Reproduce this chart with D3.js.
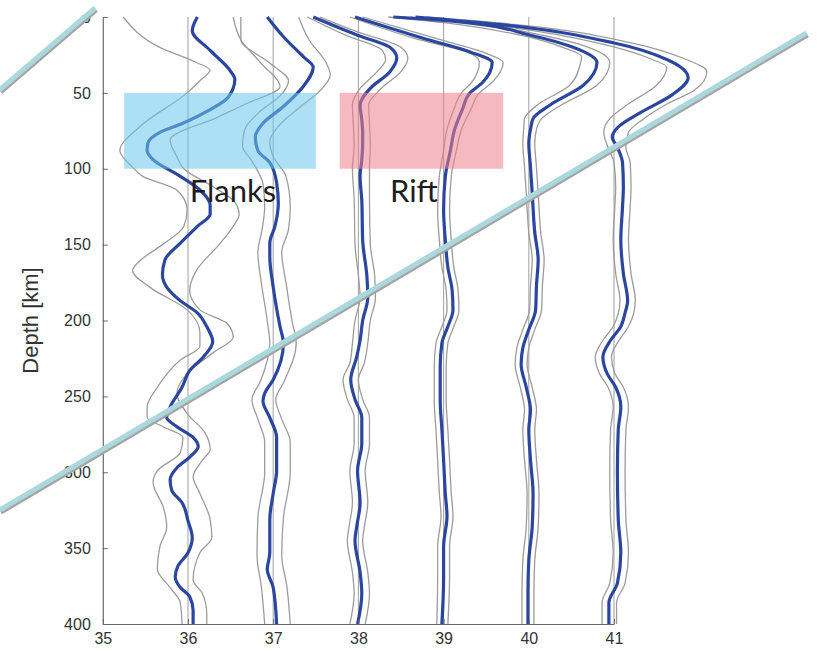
<!DOCTYPE html>
<html>
<head>
<meta charset="utf-8">
<script src="https://cdn.jsdelivr.net/npm/d3@7/dist/d3.min.js"></script>
<style>
  html, body { margin: 0; padding: 0; background: #fff; }
  svg { display: block; }
</style>
</head>
<body>
<svg id="chart" width="818" height="650"></svg>
<script>
// Station longitudes (one stacked profile per station) and axis ticks
const stations = [36, 37, 38, 39, 40, 41];
const lonTicks = [35, 36, 37, 38, 39, 40, 41];
const depthTicks = [0, 50, 100, 150, 200, 250, 300, 350, 400];

// Each profile: [depth km, plotted longitude] for the mean trace and its two bounds
const mid36 = [[0,36.11],[9,36.05],[22,36.26],[35,36.49],[41,36.55],[53,36.47],[61,36.26],[70,35.94],[76,35.67],[83,35.53],[88,35.52],[94,35.59],[105,35.91],[114,36.14],[124,36.26],[130,36.26],[138,36.11],[149,35.91],[160,35.73],[170,35.70],[178,35.75],[187,35.91],[195,36.11],[204,36.22],[214,36.29],[224,36.18],[233,36.02],[244,35.93],[257,35.79],[264,35.75],[270,35.87],[277,36.06],[283,36.12],[290,36.02],[297,35.87],[305,35.79],[312,35.81],[320,35.93],[332,36.00],[343,36.05],[353,36.00],[362,35.88],[369,35.85],[376,35.91],[382,36.02],[391,36.06],[400,36.06]];
const lo36 = [[0,35.24],[20,35.67],[30,36.10],[35,36.26],[42,36.14],[50,35.99],[72,35.44],[88,35.20],[99,35.35],[105,35.47],[114,35.87],[127,35.99],[138,35.95],[150,35.70],[160,35.45],[167,35.35],[178,35.55],[193,35.99],[208,36.14],[217,36.14],[226,35.91],[244,35.64],[257,35.52],[264,35.52],[270,35.71],[277,35.94],[287,35.91],[299,35.64],[307,35.59],[323,35.71],[336,35.75],[349,35.67],[364,35.64],[376,35.79],[386,35.91],[400,35.93]];
const hi36 = [[0,36.53],[15,36.62],[30,36.85],[46,37.08],[57,36.69],[66,36.35],[81,35.79],[92,35.87],[100,35.95],[112,36.30],[122,36.55],[130,36.60],[138,36.53],[149,36.38],[167,36.10],[180,36.02],[193,36.14],[202,36.46],[211,36.53],[221,36.30],[235,35.99],[248,35.87],[262,36.00],[274,36.20],[285,36.26],[292,36.17],[303,36.06],[314,36.14],[331,36.26],[343,36.28],[353,36.14],[371,36.06],[380,36.17],[393,36.22],[400,36.22]];

const mid37 = [[0,36.93],[13,37.12],[26,37.35],[33,37.47],[46,37.35],[59,37.12],[70,36.88],[79,36.79],[88,36.82],[96,36.96],[109,37.04],[123,37.06],[138,37.02],[149,36.96],[158,36.96],[178,37.00],[204,37.08],[215,37.12],[239,37.00],[248,36.90],[253,36.88],[264,36.96],[277,37.04],[299,37.04],[314,37.00],[331,36.96],[353,36.96],[364,36.93],[376,37.00],[400,37.04]];
const lo37 = [[0,36.62],[15,36.62],[30,36.95],[42,37.18],[52,37.08],[62,36.85],[75,36.66],[85,36.64],[95,36.75],[110,36.88],[125,36.90],[140,36.87],[155,36.82],[175,36.86],[200,36.93],[215,36.96],[240,36.85],[252,36.75],[265,36.82],[280,36.90],[300,36.90],[330,36.82],[355,36.81],[375,36.86],[400,36.90]];
const hi37 = [[0,37.30],[15,37.42],[30,37.62],[38,37.67],[48,37.56],[60,37.30],[72,37.06],[82,36.96],[92,37.00],[105,37.15],[125,37.20],[140,37.18],[155,37.10],[175,37.15],[200,37.22],[215,37.27],[240,37.13],[252,37.03],[265,37.10],[280,37.20],[300,37.20],[330,37.12],[355,37.10],[375,37.16],[400,37.20]];

const mid38 = [[0,37.47],[12,37.99],[20,38.37],[27,38.45],[36,38.37],[47,38.14],[58,38.02],[68,38.04],[76,38.05],[83,38.05],[94,38.04],[105,38.02],[121,38.04],[147,38.05],[171,38.10],[185,38.11],[200,38.05],[213,38.02],[224,37.98],[239,37.91],[252,37.96],[264,38.04],[281,38.04],[299,37.99],[320,38.02],[336,37.98],[345,37.96],[366,38.02],[380,38.04],[400,37.99]];
const lo38 = [[0,37.40],[12,37.85],[22,38.28],[28,38.32],[36,38.22],[47,38.02],[58,37.93],[70,37.94],[85,37.95],[100,37.93],[120,37.95],[150,37.96],[170,38.00],[185,38.02],[200,37.96],[215,37.93],[228,37.90],[239,37.82],[252,37.87],[264,37.95],[281,37.95],[299,37.90],[320,37.93],[336,37.89],[345,37.87],[366,37.93],[380,37.95],[400,37.90]];
const hi38 = [[0,37.55],[10,38.00],[20,38.50],[27,38.58],[36,38.50],[47,38.27],[58,38.12],[70,38.13],[85,38.14],[100,38.13],[120,38.13],[150,38.14],[170,38.19],[185,38.20],[200,38.14],[215,38.11],[228,38.07],[239,38.00],[252,38.05],[264,38.13],[281,38.13],[299,38.08],[320,38.11],[336,38.07],[345,38.05],[366,38.11],[380,38.13],[400,38.08]];

const mid39 = [[0,37.96],[14,38.76],[23,39.31],[30,39.57],[43,39.46],[50,39.31],[61,39.22],[74,39.13],[88,39.08],[105,39.02],[127,39.00],[147,39.02],[165,39.05],[180,39.10],[193,39.11],[204,39.05],[215,38.98],[231,38.96],[252,38.96],[272,38.98],[292,39.00],[314,39.02],[329,39.04],[349,39.00],[369,39.00],[400,38.98]];
const lo39 = [[0,37.90],[14,38.65],[25,39.35],[30,39.42],[43,39.33],[50,39.21],[61,39.12],[74,39.04],[88,39.00],[105,38.95],[127,38.93],[147,38.95],[165,38.98],[180,39.03],[193,39.04],[204,38.98],[215,38.91],[231,38.89],[252,38.89],[272,38.91],[292,38.93],[314,38.95],[329,38.97],[349,38.93],[369,38.93],[400,38.92]];
const hi39 = [[0,38.05],[14,38.90],[24,39.50],[30,39.70],[43,39.57],[50,39.42],[61,39.32],[74,39.21],[88,39.15],[105,39.09],[127,39.07],[147,39.09],[165,39.12],[180,39.17],[193,39.18],[204,39.12],[215,39.05],[231,39.03],[252,39.03],[272,39.05],[292,39.07],[314,39.09],[329,39.11],[349,39.07],[369,39.07],[400,39.05]];

const mid40 = [[0,38.41],[3,39.16],[12,40.02],[20,40.52],[30,40.80],[45,40.64],[58,40.25],[67,40.05],[74,40.02],[83,40.00],[99,40.02],[116,40.04],[142,40.07],[160,40.11],[177,40.09],[193,40.08],[206,40.00],[218,39.93],[229,39.91],[244,39.97],[259,40.02],[272,40.00],[292,40.02],[314,40.05],[336,40.04],[358,40.00],[380,39.99],[400,39.99]];
const lo40 = [[0,38.35],[4,39.05],[12,39.90],[20,40.40],[26,40.62],[32,40.60],[45,40.48],[58,40.10],[67,39.95],[74,39.94],[83,39.93],[99,39.95],[116,39.97],[142,40.00],[160,40.04],[177,40.02],[193,40.01],[206,39.93],[218,39.86],[229,39.84],[244,39.90],[259,39.95],[272,39.93],[292,39.95],[314,39.98],[336,39.97],[358,39.93],[380,39.92],[400,39.92]];
const hi40 = [[0,38.50],[4,39.30],[12,40.15],[20,40.70],[30,40.95],[45,40.80],[58,40.38],[67,40.15],[74,40.09],[83,40.07],[99,40.09],[116,40.11],[142,40.14],[160,40.18],[177,40.16],[193,40.15],[206,40.07],[218,40.00],[229,39.98],[244,40.04],[259,40.09],[272,40.07],[292,40.09],[314,40.12],[336,40.11],[358,40.07],[380,40.06],[400,40.06]];

const mid41 = [[0,38.67],[5,39.67],[17,40.99],[28,41.62],[40,41.87],[51,41.69],[63,41.31],[73,41.04],[79,40.98],[86,41.04],[96,41.10],[112,41.11],[125,41.10],[147,41.08],[169,41.11],[187,41.16],[195,41.13],[204,41.08],[213,40.96],[224,40.87],[235,40.92],[244,41.02],[257,41.08],[272,41.05],[299,41.04],[331,41.05],[353,41.08],[373,41.04],[386,40.94],[400,40.94]];
const lo41 = [[0,38.60],[5,39.50],[17,40.80],[28,41.45],[33,41.62],[45,41.50],[58,41.15],[67,40.95],[76,40.88],[86,40.93],[96,41.00],[112,41.02],[125,41.01],[147,40.99],[169,41.02],[187,41.07],[204,40.99],[213,40.87],[224,40.78],[235,40.83],[244,40.93],[257,40.99],[272,40.96],[299,40.95],[331,40.96],[353,40.99],[373,40.95],[386,40.86],[400,40.86]];
const hi41 = [[0,38.80],[5,39.85],[17,41.20],[28,41.85],[36,42.09],[48,41.95],[58,41.60],[67,41.35],[76,41.17],[86,41.14],[96,41.19],[112,41.20],[125,41.19],[147,41.17],[169,41.20],[187,41.25],[204,41.17],[213,41.06],[224,40.97],[235,41.01],[244,41.11],[257,41.17],[272,41.14],[299,41.13],[331,41.14],[353,41.17],[373,41.13],[386,41.03],[400,41.03]];

const meanTraces = [mid36, mid37, mid38, mid39, mid40, mid41];
const boundTraces = [lo36, hi36, lo37, hi37, lo38, hi38, lo39, hi39, lo40, hi40, lo41, hi41];

// Highlighted depth windows
const zoneNames = ["Flanks", "Rift"];
const zoneLon0 = [35.25, 37.78];
const zoneLon1 = [37.5, 39.7];
const zoneTop = [50, 50];
const zoneBottom = [100, 100];
const zoneFill = ["#6cc6ec", "#f0808c"];
const zoneLabelLon = [36.02, 38.37];
const zoneLabelDepth = [122, 122];

// Strike-through marks across the figure: [lon, depth] end points
const strikeA = [[33.79, 48], [34.91, -6]];
const strikeB = [[33.79, 325], [43.26, 10.5]];

const svg = d3.select("#chart");
const x = d3.scaleLinear().domain([35, 41]).range([102.8, 614]);
const y = d3.scaleLinear().domain([0, 400]).range([17, 624]);

const line = d3.line()
  .x(d => x(d[1]))
  .y(d => y(d[0]))
  .curve(d3.curveMonotoneY);

// Station reference lines
svg.append("g").selectAll("line").data(stations).join("line")
  .attr("x1", d => x(d)).attr("x2", d => x(d))
  .attr("y1", y(0)).attr("y2", y(400))
  .attr("stroke", "#a8a8a8").attr("stroke-width", 1.1);

// Bounds
svg.append("g").selectAll("path").data(boundTraces).join("path")
  .attr("d", line)
  .attr("fill", "none")
  .attr("stroke", "#9c9c9c")
  .attr("stroke-width", 1.3);

// Mean traces
svg.append("g").selectAll("path").data(meanTraces).join("path")
  .attr("d", line)
  .attr("fill", "none")
  .attr("stroke", "#2b46a0")
  .attr("stroke-width", 3.2)
  .attr("stroke-linejoin", "round");

// Depth windows
svg.append("g").selectAll("rect").data(zoneNames).join("rect")
  .attr("x", (d, i) => x(zoneLon0[i]))
  .attr("y", (d, i) => y(zoneTop[i]))
  .attr("width", (d, i) => x(zoneLon1[i]) - x(zoneLon0[i]))
  .attr("height", (d, i) => y(zoneBottom[i]) - y(zoneTop[i]))
  .attr("fill", (d, i) => zoneFill[i])
  .attr("fill-opacity", 0.55);

// Axes
const axisClip = svg.append("clipPath").attr("id", "axisClip");
axisClip.append("rect").attr("x", 0).attr("y", 15).attr("width", 818).attr("height", 640);

const axisFont = "'Liberation Sans', Helvetica, Arial, sans-serif";
const axes = svg.append("g").attr("clip-path", "url(#axisClip)");
const yAxis = axes.append("g")
  .attr("transform", `translate(${x(35)},0)`)
  .call(d3.axisLeft(y).tickValues(depthTicks).tickFormat(d3.format("d"))
    .tickSizeInner(-5).tickSizeOuter(0).tickPadding(12));
const xAxis = axes.append("g")
  .attr("transform", `translate(0,${y(400)})`)
  .call(d3.axisBottom(x).tickValues(lonTicks).tickFormat(d3.format("d"))
    .tickSizeInner(-5).tickSizeOuter(0).tickPadding(9));
[yAxis, xAxis].forEach(g => {
  g.attr("font-family", axisFont).attr("font-size", 16);
  g.select(".domain").attr("stroke", "#6a6a6a").attr("stroke-width", 1.2);
  g.selectAll(".tick line").attr("stroke", "#6a6a6a");
  g.selectAll(".tick text").attr("fill", "#333");
});

svg.append("text")
  .attr("transform", `translate(38,${y(200)}) rotate(-90)`)
  .attr("text-anchor", "middle")
  .attr("fill", "#333")
  .attr("font-family", axisFont)
  .attr("font-size", 22)
  .text("Depth [km]");

// Zone labels
svg.append("g").selectAll("text").data(zoneNames).join("text")
  .attr("x", (d, i) => x(zoneLabelLon[i]))
  .attr("y", (d, i) => y(zoneLabelDepth[i]))
  .attr("fill", "#1e1e1e")
  .attr("font-family", "Lato, 'Open Sans', sans-serif")
  .attr("font-size", 31)
  .text(d => d);

// Strike marks with a soft drop shadow
const strikes = [strikeA, strikeB];
const strikeLine = d3.line().x(d => x(d[0])).y(d => y(d[1]));
const sg = svg.append("g");
sg.selectAll("path.shadow").data(strikes).join("path")
  .attr("class", "shadow")
  .attr("d", strikeLine)
  .attr("transform", "translate(1,2)")
  .attr("stroke", "#a4a4a4").attr("stroke-width", 5).attr("fill", "none");
sg.selectAll("path.mark").data(strikes).join("path")
  .attr("class", "mark")
  .attr("d", strikeLine)
  .attr("stroke", "#abd8dc").attr("stroke-width", 5).attr("fill", "none");
</script>
</body>
</html>
